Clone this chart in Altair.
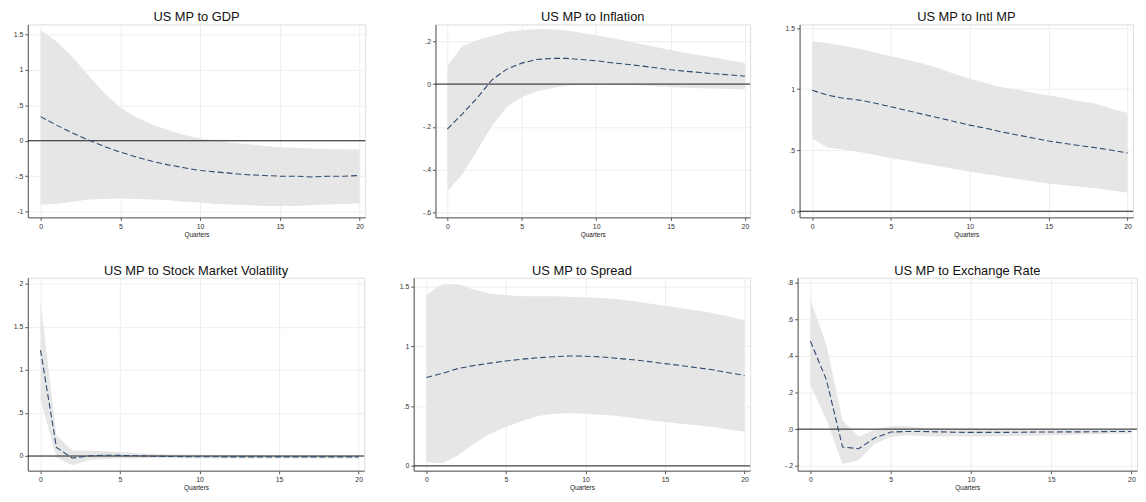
import altair as alt
import pandas as pd

quarters = list(range(21))

titles = ["US MP to GDP", "US MP to Inflation", "US MP to Intl MP",
          "US MP to Stock Market Volatility", "US MP to Spread", "US MP to Exchange Rate"]

gdp_irf = [0.34, 0.22, 0.11, 0.01, -0.08, -0.16, -0.23, -0.29, -0.34, -0.38, -0.42,
           -0.44, -0.46, -0.48, -0.49, -0.50, -0.50, -0.51, -0.50, -0.50, -0.49]
gdp_hi = [1.56, 1.40, 1.18, 0.92, 0.67, 0.47, 0.33, 0.23, 0.15, 0.08, 0.03,
          0.00, -0.03, -0.05, -0.07, -0.09, -0.10, -0.11, -0.12, -0.12, -0.125]
gdp_lo = [-0.90, -0.89, -0.86, -0.83, -0.82, -0.81, -0.82, -0.83, -0.84, -0.86, -0.87,
          -0.89, -0.90, -0.91, -0.92, -0.92, -0.92, -0.91, -0.90, -0.89, -0.88]

infl_irf = [-0.21, -0.14, -0.065, 0.02, 0.07, 0.098, 0.115, 0.12, 0.12, 0.115, 0.109,
            0.10, 0.093, 0.085, 0.076, 0.067, 0.060, 0.054, 0.048, 0.043, 0.037]
infl_hi = [0.085, 0.178, 0.205, 0.225, 0.244, 0.252, 0.257, 0.256, 0.250, 0.240, 0.228,
           0.215, 0.202, 0.187, 0.173, 0.159, 0.147, 0.135, 0.124, 0.110, 0.10]
infl_lo = [-0.50, -0.423, -0.31, -0.195, -0.106, -0.062, -0.034, -0.019, -0.008, -0.003, 0.0,
           -0.001, -0.003, -0.006, -0.010, -0.014, -0.017, -0.019, -0.021, -0.023, -0.025]

intl_irf = [0.99, 0.95, 0.925, 0.91, 0.885, 0.855, 0.825, 0.795, 0.765, 0.735, 0.705,
            0.68, 0.65, 0.625, 0.60, 0.575, 0.555, 0.537, 0.52, 0.50, 0.478]
intl_hi = [1.39, 1.375, 1.355, 1.33, 1.30, 1.27, 1.24, 1.21, 1.17, 1.125, 1.085,
           1.05, 1.016, 0.995, 0.97, 0.95, 0.925, 0.90, 0.88, 0.84, 0.805]
intl_lo = [0.595, 0.52, 0.505, 0.485, 0.46, 0.435, 0.415, 0.39, 0.37, 0.345, 0.323,
           0.305, 0.285, 0.265, 0.245, 0.228, 0.213, 0.200, 0.188, 0.17, 0.152]

vol_irf = [1.23, 0.10, -0.025, 0.0, 0.01, 0.008, 0.003, -0.002, -0.005, -0.007, -0.008,
           -0.009, -0.01, -0.01, -0.01, -0.01, -0.01, -0.01, -0.01, -0.01, -0.01]
vol_hi = [1.79, 0.24, 0.065, 0.065, 0.054, 0.046, 0.036, 0.027, 0.02, 0.017, 0.015,
          0.013, 0.012, 0.011, 0.01, 0.01, 0.01, 0.01, 0.01, 0.01, 0.01]
vol_lo = [0.66, -0.02, -0.107, -0.05, -0.035, -0.03, -0.028, -0.027, -0.027, -0.028, -0.029,
          -0.03, -0.03, -0.03, -0.03, -0.03, -0.03, -0.03, -0.03, -0.03, -0.03]

spr_irf = [0.74, 0.775, 0.815, 0.84, 0.86, 0.878, 0.893, 0.905, 0.914, 0.92, 0.918,
           0.912, 0.90, 0.888, 0.873, 0.856, 0.84, 0.822, 0.804, 0.78, 0.757]
spr_hi = [1.43, 1.52, 1.52, 1.475, 1.44, 1.43, 1.42, 1.42, 1.42, 1.415, 1.41,
          1.405, 1.395, 1.38, 1.36, 1.34, 1.32, 1.30, 1.28, 1.25, 1.22]
spr_lo = [0.03, 0.022, 0.09, 0.188, 0.27, 0.326, 0.376, 0.417, 0.436, 0.44, 0.436,
          0.428, 0.417, 0.40, 0.383, 0.367, 0.353, 0.34, 0.326, 0.305, 0.285]

fx_irf = [0.48, 0.268, -0.098, -0.107, -0.049, -0.016, -0.013, -0.013, -0.015, -0.017, -0.018,
          -0.018, -0.018, -0.017, -0.016, -0.016, -0.015, -0.015, -0.014, -0.013, -0.013]
fx_hi = [0.707, 0.458, 0.047, -0.04, -0.004, 0.015, 0.015, 0.008, 0.005, 0.003, 0.002,
         0.001, 0.0, -0.001, -0.001, -0.002, -0.002, -0.003, -0.003, -0.004, -0.004]
fx_lo = [0.24, 0.05, -0.19, -0.17, -0.08, -0.043, -0.034, -0.037, -0.04, -0.04, -0.04,
         -0.04, -0.039, -0.038, -0.036, -0.034, -0.032, -0.030, -0.028, -0.026, -0.025]

y_ticks = [
    [-1, -0.5, 0, 0.5, 1, 1.5],
    [-0.6, -0.4, -0.2, 0, 0.2],
    [0, 0.5, 1, 1.5],
    [0, 0.5, 1, 1.5, 2],
    [0, 0.5, 1, 1.5],
    [-0.2, 0, 0.2, 0.4, 0.6, 0.8],
]
x_ticks = [0, 5, 10, 15, 20]

series = [
    (gdp_irf, gdp_lo, gdp_hi),
    (infl_irf, infl_lo, infl_hi),
    (intl_irf, intl_lo, intl_hi),
    (vol_irf, vol_lo, vol_hi),
    (spr_irf, spr_lo, spr_hi),
    (fx_irf, fx_lo, fx_hi),
]

# layout-only settings
y_domains = [[-1.08, 1.64], [-0.623, 0.279], [-0.05, 1.53],
             [-0.17, 2.07], [-0.04, 1.575], [-0.227, 0.827]]
y_formats = ["~g", "~g", "~g", "~g", "~g", ".1f"]
extents = [19, 40, 19, 14, 19, 17]
widths = [341, 318, 337, 340, 340, 343]
PH = 195
FONT = "Liberation Sans"


def panel(i):
    irf, lo, hi = series[i]
    df = pd.DataFrame({"q": quarters, "irf": irf, "lo": lo, "hi": hi})
    lab = ("replace(replace(format(datum.value, '%s'), '\u2212', '-'), "
           "regexp('^(-?)0\\\\.'), '$1.')" % y_formats[i])
    x = alt.X("q:Q", scale=alt.Scale(domain=[-0.8, 20.35], nice=False, zero=False),
              axis=alt.Axis(values=x_ticks, tickCount=30, format="d", title="Quarters",
                            titleFontSize=6.5, titleFontWeight="normal", titleFont=FONT,
                            titleColor="#222", titlePadding=2, labelFontSize=7,
                            labelFont=FONT, labelColor="#333", labelPadding=2, tickSize=3,
                            tickColor="#555", domainColor="#555", gridColor="#eeeeee",
                            grid=True, labelFlush=False, labelOverlap=False))
    y = alt.Y("lo:Q", scale=alt.Scale(domain=y_domains[i], nice=False, zero=False),
              axis=alt.Axis(values=y_ticks[i], tickCount=30, title=None, labelExpr=lab,
                            labelFontSize=7, labelFont=FONT, labelColor="#333",
                            labelPadding=2, tickSize=3, tickColor="#555",
                            domainColor="#555", gridColor="#eeeeee", grid=True,
                            minExtent=extents[i], maxExtent=extents[i], labelFlush=False,
                            labelOverlap=False))
    band = alt.Chart(df).mark_area(color="#e6e6e6", opacity=1).encode(
        x=x, y=y, y2="hi:Q")
    zero = alt.Chart(pd.DataFrame({"z": [0]})).mark_rule(color="#1a1a1a", strokeWidth=1).encode(
        y=alt.Y("z:Q"))
    line = alt.Chart(df).mark_line(color="#2e4a6e", strokeWidth=1.1,
                                   strokeDash=[6, 3]).encode(
        x=alt.X("q:Q"), y=alt.Y("irf:Q"))
    return alt.layer(band, zero, line).properties(
        width=widths[i], height=PH,
        title=alt.TitleParams(titles[i], fontSize=13, font=FONT, fontWeight="normal",
                              color="#111", anchor="middle", frame="group", offset=0))


row1 = alt.hconcat(panel(0), panel(1), panel(2), spacing=29)
row2 = alt.hconcat(panel(3), panel(4), panel(5), spacing=29)
chart = (alt.vconcat(row1, row2, spacing=26).properties(padding=0)
         .configure_view(strokeWidth=0)
         .configure(background="white"))

chart.save("out.html", embed_options={"renderer": "svg", "actions": False})
